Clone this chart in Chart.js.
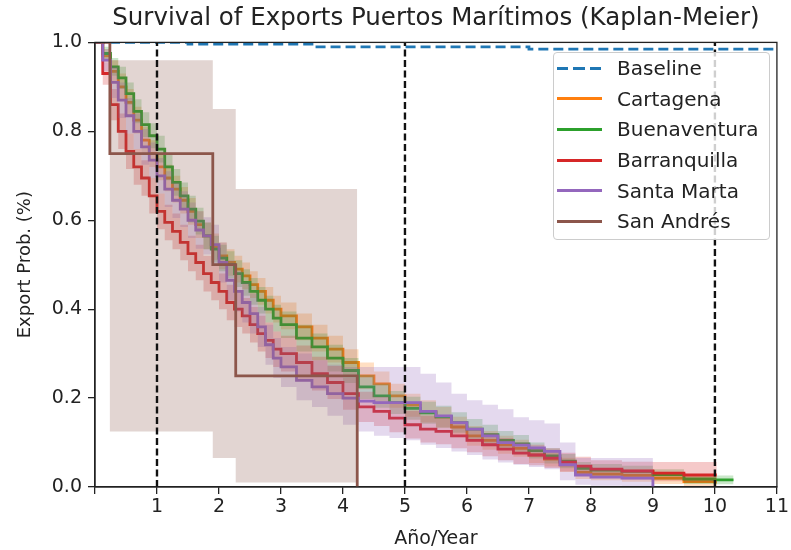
<!DOCTYPE html>
<html>
<head>
<meta charset="utf-8">
<script src="https://cdn.jsdelivr.net/npm/chart.js@4.4.0/dist/chart.umd.min.js"></script>
<style>
  body { margin: 0; background: #fff; }
  #wrap { position: relative; width: 791px; height: 550px; }
  #legend {
    position: absolute; left: 553px; top: 52px; width: 217px; height: 188px;
    border: 1px solid #ccc; border-radius: 4px; background: rgba(255,255,255,0.8);
    box-sizing: border-box; font-family: "DejaVu Sans"; font-size: 20px; color: #222;
  }
  .row { height: 30.6px; display: flex; align-items: center; }
  .sw { width: 45px; height: 3px; margin-left: 3px; margin-right: 15px; flex: none; }
</style>
</head>
<body>
<div id="wrap">
  <canvas id="myChart" width="791" height="550"></canvas>
  <div id="legend"></div>
</div>
<script>
// time grid (years) for the KM step curves, value holds from each time onward
const T = [0, 0.125, 0.25, 0.375, 0.5, 0.625, 0.75, 0.875, 1, 1.125, 1.25, 1.375, 1.5, 1.625, 1.75, 1.875, 2,
  2.125, 2.25, 2.375, 2.5, 2.625, 2.75, 2.875, 3, 3.25, 3.5, 3.75, 4, 4.25, 4.5, 4.75, 5, 5.25, 5.5, 5.75, 6,
  6.25, 6.5, 6.75, 7, 7.25, 7.5, 7.75, 8, 8.5, 9, 9.5, 10];

const cartagena   = [1, .97, .935, .90, .865, .825, .78, .75, .72, .695, .67, .645, .62, .59, .565, .54, .52, .505, .49, .475, .455, .44, .42, .40, .385,
  .36, .335, .31, .28, .25, .232, .205, .184, .17, .157, .135, .115, .105, .095, .087, .072, .063, .05, .033, .029, .026, .02, .012, .011];
const cartagenaHi = [1, .985, .96, .93, .895, .855, .81, .78, .75, .725, .70, .675, .65, .62, .595, .57, .55, .535, .52, .505, .485, .47, .45, .43, .415,
  .39, .365, .34, .31, .28, .26, .232, .21, .195, .18, .158, .137, .126, .115, .106, .09, .08, .066, .048, .043, .04, .033, .024, .022];
const cartagenaLo = [1, .955, .91, .87, .835, .795, .75, .72, .69, .665, .64, .615, .59, .56, .535, .51, .49, .475, .46, .445, .425, .41, .39, .37, .355,
  .33, .305, .28, .25, .22, .204, .178, .158, .145, .134, .112, .093, .084, .075, .068, .054, .046, .034, .018, .015, .012, .007, .002, .001];

const buenaventura   = [1, .975, .945, .92, .885, .845, .815, .79, .76, .72, .685, .655, .625, .598, .565, .535, .515, .50, .48, .46, .44, .42, .40, .38, .365,
  .335, .315, .29, .262, .225, .205, .19, .177, .167, .158, .145, .13, .118, .105, .097, .082, .07, .058, .042, .038, .035, .028, .018, .016];
const buenaventuraHi = [1, .99, .965, .945, .91, .872, .843, .818, .79, .75, .715, .685, .655, .628, .595, .565, .545, .53, .51, .49, .47, .45, .43, .41, .395,
  .365, .345, .32, .29, .252, .232, .216, .203, .192, .183, .168, .153, .14, .126, .117, .10, .087, .074, .056, .052, .048, .04, .029, .026];
const buenaventuraLo = [1, .96, .925, .895, .86, .818, .787, .762, .73, .69, .655, .625, .595, .568, .535, .505, .485, .47, .45, .43, .41, .39, .37, .35, .335,
  .305, .285, .26, .234, .198, .178, .164, .151, .142, .133, .122, .107, .096, .084, .077, .064, .053, .042, .028, .024, .022, .016, .007, .006];

const barranquilla   = [1, .93, .86, .80, .755, .72, .695, .655, .62, .595, .575, .55, .525, .505, .48, .46, .44, .415, .40, .385, .365, .345, .33, .31, .30,
  .28, .255, .235, .21, .18, .17, .155, .14, .13, .125, .115, .105, .095, .085, .076, .072, .065, .056, .047, .04, .036, .031, .027, .027];
const barranquillaHi = [1, .955, .895, .84, .795, .76, .735, .695, .66, .635, .615, .59, .565, .545, .52, .50, .48, .455, .44, .425, .405, .385, .37, .35, .34,
  .318, .293, .272, .246, .214, .203, .187, .171, .16, .154, .143, .132, .121, .11, .10, .095, .087, .077, .068, .06, .057, .056, .056, .056];
const barranquillaLo = [1, .905, .825, .76, .715, .68, .655, .615, .58, .555, .535, .51, .485, .465, .44, .42, .40, .375, .36, .345, .325, .305, .29, .27, .26,
  .242, .217, .198, .174, .146, .137, .123, .109, .10, .096, .087, .078, .069, .06, .052, .049, .043, .035, .026, .02, .017, .013, .01, .01];

// Santa Marta stops at 9 years
const santaMarta   = [1, .96, .91, .87, .835, .80, .765, .735, .70, .67, .645, .625, .60, .578, .565, .545, .505, .465, .44, .415, .39, .36, .32, .29, .27,
  .24, .225, .21, .20, .193, .19, .19, .19, .17, .16, .145, .13, .115, .10, .094, .088, .08, .05, .027, .022, .02, 0];
const santaMartaHi = [1, .985, .945, .91, .875, .84, .805, .775, .74, .71, .685, .665, .64, .62, .607, .59, .55, .51, .485, .46, .435, .405, .365, .335, .315,
  .30, .285, .275, .27, .27, .27, .27, .27, .255, .235, .21, .195, .185, .175, .157, .15, .143, .10, .065, .065, .065, .065];
const santaMartaLo = [1, .935, .875, .83, .795, .76, .725, .695, .66, .63, .605, .585, .56, .536, .523, .50, .46, .42, .395, .37, .345, .315, .275, .245, .225,
  .195, .18, .16, .14, .125, .115, .11, .105, .095, .088, .08, .072, .062, .055, .05, .045, .04, .015, .005, .003, .002, 0];

// San Andrés has only a few events
const sanAndresT  = [0, 0.24, 1.9, 2.27, 4.23];
const sanAndres   = [1, .75, .5, .25, 0];
const sanAndresHi = [1, .96, .85, .67, .67];
const sanAndresLo = [1, .125, .065, .01, .01];

const baselineT = [0, 1.5, 3.5, 7, 11];
const baseline  = [1, .996, .99, .985, .985];

const markYears = [1, 5, 10];
const xTicks = [0, 1, 2, 3, 4, 5, 6, 7, 8, 9, 10, 11];
const yTicks = [0, 0.2, 0.4, 0.6, 0.8, 1.0];

// turn arrays into {x,y} points, hold last value until endX
function steps(times, vals, endX) {
  const pts = vals.map((v, i) => ({ x: times[i], y: v }));
  if (endX !== undefined) pts.push({ x: endX, y: vals[vals.length - 1] });
  return pts;
}

const series = [
  { label: "Cartagena", color: "#ff7f0e", fill: "rgba(255,127,14,0.25)", t: T, v: cartagena, lo: cartagenaLo, hi: cartagenaHi, end: 10.03, z: 9 },
  { label: "Buenaventura", color: "#2ca02c", fill: "rgba(44,160,44,0.25)", t: T, v: buenaventura, lo: buenaventuraLo, hi: buenaventuraHi, end: 10.3, z: 7 },
  { label: "Barranquilla", color: "#d62728", fill: "rgba(214,39,40,0.25)", t: T, v: barranquilla, lo: barranquillaLo, hi: barranquillaHi, end: 10.03, z: 5 },
  { label: "Santa Marta", color: "#9467bd", fill: "rgba(148,103,189,0.25)", t: T, v: santaMarta, lo: santaMartaLo, hi: santaMartaHi, end: undefined, z: 3 },
  { label: "San Andrés", color: "#8c564b", fill: "rgba(140,86,75,0.25)", t: sanAndresT, v: sanAndres, lo: sanAndresLo, hi: sanAndresHi, end: undefined, z: 1 },
];

const datasets = [];
// baseline
datasets.push({
  label: "Baseline", data: steps(baselineT, baseline), stepped: true,
  borderColor: "#1f77b4", borderWidth: 2.8, borderDash: [10, 5], pointRadius: 0, fill: false, order: 11,
});
series.forEach((s) => {
  // lower band (invisible), upper band fills down to it
  datasets.push({ label: s.label + " lo", data: steps(s.t, s.lo, s.end), stepped: true, borderWidth: 0, pointRadius: 0, fill: false, order: s.z + 1 });
  datasets.push({ label: s.label + " hi", data: steps(s.t, s.hi, s.end), stepped: true, borderWidth: 0, pointRadius: 0, fill: "-1", backgroundColor: s.fill, order: s.z + 1 });
  datasets.push({ label: s.label, data: steps(s.t, s.v, s.end), stepped: true, borderColor: s.color, borderWidth: 2.8, pointRadius: 0, fill: false, order: s.z });
});
// vertical reference lines
markYears.forEach((yr) => {
  datasets.push({ label: "mark" + yr, data: [{ x: yr, y: 0 }, { x: yr, y: 1 }], borderColor: "#111", borderWidth: 2.4, borderDash: [7, 3.5], pointRadius: 0, fill: false, order: 0 });
});

// axes frame on all 4 sides
const frame = {
  id: "frame",
  afterDatasetsDraw(chart) {
    const a = chart.chartArea, c = chart.ctx;
    c.save();
    c.strokeStyle = "#222";
    c.lineWidth = 1.3;
    c.strokeRect(a.left, a.top, a.right - a.left, a.bottom - a.top);
    c.restore();
  },
};

Chart.defaults.font.family = "DejaVu Sans";
Chart.defaults.color = "#222";

const ctx = document.getElementById("myChart").getContext("2d");
const myChart = new Chart(ctx, {
  type: "line",
  data: { datasets: datasets },
  plugins: [frame],
  options: {
    responsive: false,
    animation: false,
    devicePixelRatio: 1,
    layout: { padding: { top: 0, right: 11, left: 0, bottom: 0 } },
    plugins: {
      legend: { display: false },
      tooltip: { enabled: false },
      title: {
        display: true,
        fullSize: false, // center over the plot area
        text: "Survival of Exports Puertos Marítimos (Kaplan-Meier)",
        font: { size: 24.5, weight: "normal" },
        color: "#222",
        padding: { top: 4, bottom: 9 },
      },
    },
    scales: {
      x: {
        type: "linear", min: 0, max: 11,
        afterBuildTicks: (s) => { s.ticks = xTicks.map((v) => ({ value: v })); },
        afterFit: (s) => { s.height = 63; },
        ticks: { font: { size: 19 }, color: "#222", padding: 2, maxRotation: 0, callback: (v) => (v === 0 ? "" : v) },
        grid: { drawOnChartArea: false, drawTicks: true, tickLength: 7, color: "#222", lineWidth: 1.3 },
        border: { color: "#222", width: 1.3 },
        title: { display: true, text: "Año/Year", font: { size: 19 }, color: "#222", padding: { top: 0, bottom: 0 } },
      },
      y: {
        type: "linear", min: 0, max: 1,
        afterBuildTicks: (s) => { s.ticks = yTicks.map((v) => ({ value: v })); },
        afterFit: (s) => { s.width = 95; },
        ticks: { font: { size: 19 }, color: "#222", padding: 6, callback: (v) => v.toFixed(1) },
        grid: { drawOnChartArea: false, drawTicks: true, tickLength: 7, color: "#222", lineWidth: 1.3 },
        border: { color: "#222", width: 1.3 },
        title: { display: true, text: "Export Prob. (%)", font: { size: 18 }, color: "#222", padding: { top: 15, bottom: 0 } },
      },
    },
  },
});

// legend box drawn as html on top of the plot
const legendItems = [{ label: "Baseline", color: "#1f77b4", dash: true }].concat(series.map((s) => ({ label: s.label, color: s.color })));
const legend = document.getElementById("legend");
legendItems.forEach((it) => {
  const bg = it.dash
    ? `repeating-linear-gradient(to right, ${it.color} 0 11.5px, transparent 11.5px 16.5px)`
    : it.color;
  legend.innerHTML += `<div class="row"><span class="sw" style="background:${bg}"></span>${it.label}</div>`;
});
</script>
</body>
</html>
